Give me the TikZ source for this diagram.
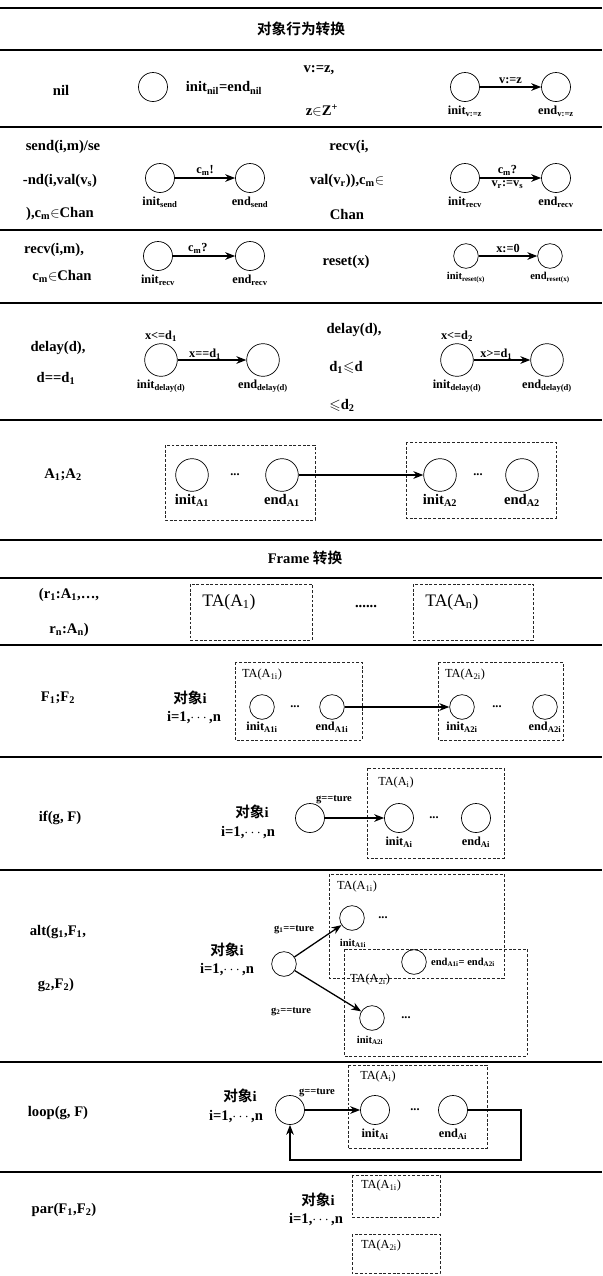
\documentclass[tikz,border=0pt]{standalone}
\usepackage{amsmath,amssymb}
\usepackage{fontspec}
\setmainfont{Liberation Serif}
\newfontfamily\cjk{Noto Sans CJK SC}[BoldFont={Noto Sans CJK SC Bold}]
\usepackage{tikz}
\usetikzlibrary{arrows.meta,positioning}
\tikzset{
  st/.style={
    circle,
    draw=black,
    line width=0.6pt,
    minimum size=0.87cm,
    inner sep=0pt
  },
  sts/.style={st, minimum size=0.74cm},
  stl/.style={st, minimum size=0.98cm},
  txt/.style={font=\fontsize{12.5}{14}\selectfont\bfseries, inner sep=1pt},
  sml/.style={font=\fontsize{10.5}{12}\selectfont\bfseries, inner sep=1pt},
  tny/.style={font=\fontsize{9}{10}\selectfont\bfseries, inner sep=1pt},
  talbl/.style={font=\fontsize{10.5}{12}\selectfont, inner sep=1pt},
  tabox/.style={draw=black!85, line width=0.6pt, dash pattern=on 2.5pt off 1.5pt},
  rule/.style={line width=1.6pt},
  flow/.style={-{Stealth[length=3mm, width=2.3mm]}, line width=1.1pt}
}

\begin{document}
\begin{tikzpicture}[x=0.03cm,y=-0.03cm]
\useasboundingbox (0,0) rectangle (602,1276);
% table rules
\draw[rule, line width=2.2pt] (0,8) -- (602,8);
\foreach \yy in {50,127,230,303,420,540,578,645,757,870,1062,1172}
  \draw[rule] (0,\yy) -- (602,\yy);

% header
\node[txt] (hdA) at (301,29) {\cjk 对象行为转换};

% nil / v:=z
\node[txt] (nilT) at (61,90) {nil};
\node[st] (nilS) at (153,87) {};
\node[txt] (nilL) at (224,88) {init\textsubscript{nil}=end\textsubscript{nil}};
\node[txt] (vzT1) at (319,70) {v:=z,};
\node[txt] (vzT2) at (322,110) {z$\in$Z\textsuperscript{+}};
\node[st] (vzI) at (465,87) {};
\node[st] (vzE) at (556,87) {};
\draw[flow] (vzI) -- node[sml, above=1pt]{v:=z} (vzE);
\node[sml, below=2pt of vzI] (vzIl) {init\textsubscript{v:=z}};
\node[sml, below=2pt of vzE] (vzEl) {end\textsubscript{v:=z}};

% send / recv with value
\node[txt] (sndT1) at (63,147) {send(i,m)/se};
\node[txt] (sndT2) at (60,181) {-nd(i,val(v\textsubscript{s})};
\node[txt] (sndT3) at (60,214) {),c\textsubscript{m}$\in$Chan};
\node[st] (sndI) at (160,178) {};
\node[st] (sndE) at (250,178) {};
\draw[flow] (sndI) -- node[sml, above=1pt]{c\textsubscript{m}!} (sndE);
\node[sml, below=2pt of sndI] (sndIl) {init\textsubscript{send}};
\node[sml, below=2pt of sndE] (sndEl) {end\textsubscript{send}};
\node[txt] (rcvT1) at (349,147) {recv(i,};
\node[txt] (rcvT2) at (347,181) {val(v\textsubscript{r})),c\textsubscript{m}$\in$};
\node[txt] (rcvT3) at (347,214) {Chan};
\node[st] (rcvI) at (465,178) {};
\node[st] (rcvE) at (556,178) {};
\draw[flow] (rcvI) -- node[sml, above=1pt, pos=0.45]{c\textsubscript{m}?}
  node[sml, below=1pt, pos=0.45]{v\textsubscript{r}:=v\textsubscript{s}} (rcvE);
\node[sml, below=2pt of rcvI] (rcvIl) {init\textsubscript{recv}};
\node[sml, below=2pt of rcvE] (rcvEl) {end\textsubscript{recv}};

% recv / reset
\node[txt] (rvT1) at (54,250) {recv(i,m),};
\node[txt] (rvT2) at (62,276) {c\textsubscript{m}$\in$Chan};
\node[st] (rvI) at (158,256) {};
\node[st] (rvE) at (250,256) {};
\draw[flow] (rvI) -- node[sml, above=1pt, pos=0.4]{c\textsubscript{m}?} (rvE);
\node[sml, below=2pt of rvI] (rvIl) {init\textsubscript{recv}};
\node[sml, below=2pt of rvE] (rvEl) {end\textsubscript{recv}};
\node[txt] (rsT) at (346,262) {reset(x)};
\node[sts] (rsI) at (466,256) {};
\node[sts] (rsE) at (550,256) {};
\draw[flow] (rsI) -- node[sml, above=1pt]{x:=0} (rsE);
\node[tny, below=2pt of rsI] (rsIl) {init\textsubscript{reset(x)}};
\node[tny, below=2pt of rsE] (rsEl) {end\textsubscript{reset(x)}};

% delay
\node[txt] (dlT1) at (58,348) {delay(d),};
\node[txt] (dlT2) at (56,378) {d==d\textsubscript{1}};
\node[stl] (dlI) at (161,360) {};
\node[stl] (dlE) at (263,360) {};
\node[sml, above=0pt of dlI] (dlG) {x<=d\textsubscript{1}};
\draw[flow] (dlI) -- node[sml, above=-1pt, pos=0.4]{x==d\textsubscript{1}} (dlE);
\node[sml, below=2pt of dlI] (dlIl) {init\textsubscript{delay(d)}};
\node[sml, below=2pt of dlE] (dlEl) {end\textsubscript{delay(d)}};
\node[txt] (dwT1) at (354,330) {delay(d),};
\node[txt] (dwT2) at (346,367) {d\textsubscript{1}$\leqslant$d};
\node[txt] (dwT3) at (342,405) {$\leqslant$d\textsubscript{2}};
\node[stl] (dwI) at (457,360) {};
\node[stl] (dwE) at (547,360) {};
\node[sml, above=0pt of dwI] (dwG) {x<=d\textsubscript{2}};
\draw[flow] (dwI) -- node[sml, above=-1pt, pos=0.4]{x>=d\textsubscript{1}} (dwE);
\node[sml, below=2pt of dwI] (dwIl) {init\textsubscript{delay(d)}};
\node[sml, below=2pt of dwE] (dwEl) {end\textsubscript{delay(d)}};

% A1;A2
\node[txt] (sqT) at (63,475) {A\textsubscript{1};A\textsubscript{2}};
\draw[tabox] (165,445) rectangle (315,520);
\draw[tabox] (406,442) rectangle (556,518);
\node[stl] (sqI1) at (192,475) {};
\node[sml] (sqD1) at (235,475) {...};
\node[stl] (sqE1) at (282,475) {};
\node[stl] (sqI2) at (440,475) {};
\node[sml] (sqD2) at (478,475) {...};
\node[stl] (sqE2) at (522,475) {};
\draw[flow] (sqE1) -- (sqI2);
\node[txt, below=1pt of sqI1] (sqI1l) {init\textsubscript{A1}};
\node[txt, below=1pt of sqE1] (sqE1l) {end\textsubscript{A1}};
\node[txt, below=1pt of sqI2] (sqI2l) {init\textsubscript{A2}};
\node[txt, below=1pt of sqE2] (sqE2l) {end\textsubscript{A2}};

% Frame header
\node[txt] (hdB) at (305,558) {Frame {\cjk 转换}};

% (r1:A1,...,rn:An)
\node[txt] (rT1) at (69,595) {(r\textsubscript{1}:A\textsubscript{1},\ldots,};
\node[txt] (rT2) at (69,630) {r\textsubscript{n}:A\textsubscript{n})};
\draw[tabox] (190,584) rectangle (312,640);
\draw[tabox] (413,584) rectangle (533,640);
\node[talbl, font=\fontsize{15}{17}\selectfont] (taR1) at (229,602) {TA(A\textsubscript{1})};
\node[txt] (rDots) at (366,607) {......};
\node[talbl, font=\fontsize{15}{17}\selectfont] (taRn) at (452,602) {TA(A\textsubscript{n})};

% F1;F2
\node[txt] (fsT) at (58,698) {F\textsubscript{1};F\textsubscript{2}};
\node[txt] (fsO1) at (190,698) {{\cjk 对象}i};
\node[txt] (fsO2) at (194,718) {i=1,$\cdots$,n};
\draw[tabox] (235,662) rectangle (362,740);
\draw[tabox] (438,662) rectangle (563,740);
\node[talbl] (taF1) at (262,675) {TA(A\textsubscript{1i})};
\node[talbl] (taF2) at (465,675) {TA(A\textsubscript{2i})};
\node[sts] (fsI1) at (262,707) {};
\node[sml] (fsD1) at (295,707) {...};
\node[sts] (fsE1) at (332,707) {};
\node[sts] (fsI2) at (462,707) {};
\node[sml] (fsD2) at (497,707) {...};
\node[sts] (fsE2) at (545,707) {};
\draw[flow] (fsE1) -- (fsI2);
\node[sml, below=1pt of fsI1] (fsI1l) {init\textsubscript{A1i}};
\node[sml, below=1pt of fsE1] (fsE1l) {end\textsubscript{A1i}};
\node[sml, below=1pt of fsI2] (fsI2l) {init\textsubscript{A2i}};
\node[sml, below=1pt of fsE2] (fsE2l) {end\textsubscript{A2i}};

% if(g, F)
\node[txt] (ifT) at (60,818) {if(g, F)};
\node[txt] (ifO1) at (252,812) {{\cjk 对象}i};
\node[txt] (ifO2) at (248,833) {i=1,$\cdots$,n};
\node[st] (ifS) at (310,818) {};
\draw[tabox] (367,768) rectangle (504,858);
\node[talbl] (taIf) at (396,783) {TA(A\textsubscript{i})};
\node[st] (ifI) at (399,818) {};
\node[sml] (ifD) at (434,818) {...};
\node[st] (ifE) at (476,818) {};
\draw[flow] (ifS) -- (ifI);
\node[tny] (ifG) at (334,800) {g==ture};
\node[sml, below=2pt of ifI] (ifIl) {init\textsubscript{Ai}};
\node[sml, below=2pt of ifE] (ifEl) {end\textsubscript{Ai}};

% alt(g1,F1,g2,F2)
\node[txt] (altT1) at (58,932) {alt(g\textsubscript{1},F\textsubscript{1},};
\node[txt] (altT2) at (56,985) {g\textsubscript{2},F\textsubscript{2})};
\node[txt] (altO1) at (227,950) {{\cjk 对象}i};
\node[txt] (altO2) at (227,970) {i=1,$\cdots$,n};
\node[sts] (altS) at (284,964) {};
\draw[tabox] (329,874) rectangle (504,978);
\draw[tabox] (344,949) rectangle (527,1056);
\node[talbl] (taAl1) at (357,887) {TA(A\textsubscript{1i})};
\node[sts] (altI1) at (352,918) {};
\node[sml] (altD1) at (383,918) {...};
\node[tny] (altI1l) at (353,943) {init\textsubscript{A1i}};
\node[sts] (altE) at (414,962) {};
\node[tny] (altEl) at (463,962) {end\textsubscript{A1i}= end\textsubscript{A2i}};
\node[talbl] (taAl2) at (370,980) {TA(A\textsubscript{2i})};
\node[sts] (altI2) at (372,1018) {};
\node[sml] (altD2) at (406,1018) {...};
\node[tny] (altI2l) at (370,1040) {init\textsubscript{A2i}};
\draw[flow] (altS) -- (altI1);
\draw[flow] (altS) -- (altI2);
\node[tny] (altG1) at (294,930) {g\textsubscript{1}==ture};
\node[tny] (altG2) at (291,1012) {g\textsubscript{2}==ture};

% loop(g, F)
\node[txt] (lpT) at (58,1113) {loop(g, F)};
\node[txt] (lpO1) at (240,1096) {{\cjk 对象}i};
\node[txt] (lpO2) at (236,1117) {i=1,$\cdots$,n};
\node[st] (lpS) at (290,1110) {};
\draw[tabox] (348,1065) rectangle (487,1148);
\node[talbl] (taLp) at (378,1077) {TA(A\textsubscript{i})};
\node[st] (lpI) at (375,1110) {};
\node[sml] (lpD) at (415,1110) {...};
\node[st] (lpE) at (453,1110) {};
\node[tny] (lpG) at (317,1093) {g==ture};
\draw[flow] (lpS) -- (lpI);
\coordinate (lpR) at (521,1160);
\draw[flow] (lpE.east) -| (lpR) -| (lpS.south);
\node[sml, below=2pt of lpI] (lpIl) {init\textsubscript{Ai}};
\node[sml, below=2pt of lpE] (lpEl) {end\textsubscript{Ai}};

% par(F1,F2)
\node[txt] (prT) at (64,1210) {par(F\textsubscript{1},F\textsubscript{2})};
\node[txt] (prO1) at (318,1200) {{\cjk 对象}i};
\node[txt] (prO2) at (316,1220) {i=1,$\cdots$,n};
\draw[tabox] (352,1175) rectangle (440,1217);
\draw[tabox] (352,1234) rectangle (440,1273);
\node[talbl] (taPr1) at (381,1186) {TA(A\textsubscript{1i})};
\node[talbl] (taPr2) at (381,1246) {TA(A\textsubscript{2i})};
\end{tikzpicture}
\end{document}
